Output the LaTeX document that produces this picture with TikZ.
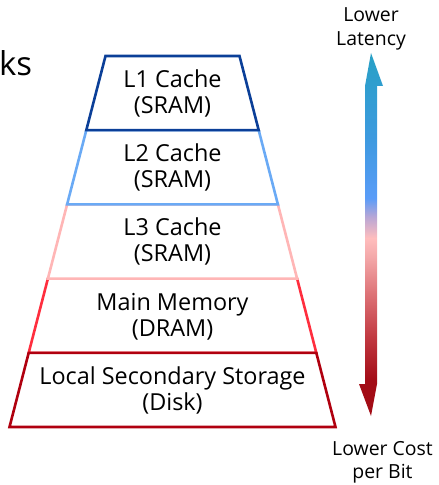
\documentclass[tikz,border=0pt]{standalone}
\usepackage{fontspec}
\setmainfont{Open Sans}

% tier outline colours
\definecolor{tierA}{HTML}{0B3F98}
\definecolor{tierB}{HTML}{6AAAF5}
\definecolor{tierC}{HTML}{FFB6B6}
\definecolor{tierD}{HTML}{FF2E3E}
\definecolor{tierE}{HTML}{B0000F}

% gradient of the double arrow, from the cost end (bottom) to the latency end (top)
\definecolor{gcA}{HTML}{A30C16}
\definecolor{gcB}{HTML}{C23A42}
\definecolor{gcC}{HTML}{DE7478}
\definecolor{gcD}{HTML}{F4A9AA}
\definecolor{gcE}{HTML}{FFBDBD}
\definecolor{gcF}{HTML}{B6A6D6}
\definecolor{gcG}{HTML}{5A9CF8}
\definecolor{gcH}{HTML}{3E9AE0}
\definecolor{gcI}{HTML}{27A0C5}
\pgfdeclareverticalshading{tradeoff}{100bp}{%
  color(0bp)=(gcA); color(25bp)=(gcA); color(30bp)=(gcA);
  color(36bp)=(gcB); color(42bp)=(gcC); color(47bp)=(gcD);
  color(49.5bp)=(gcE); color(52.5bp)=(gcF); color(55bp)=(gcG);
  color(63bp)=(gcH); color(75bp)=(gcI); color(100bp)=(gcI)}

\tikzset{
  tier/.style={line width=2.6bp, fill=white, line join=miter},
  tiertext/.style={align=center, inner sep=0pt,
    font=\fontsize{23.5}{26}\selectfont},
  sidetext/.style={align=center, inner sep=0pt,
    font=\fontsize{19.5}{23.5}\selectfont},
}

\begin{document}
\begin{tikzpicture}[x=1bp, y=-1bp]
  \useasboundingbox (0,0) rectangle (439,485);

  % cut-off title fragment
  \node[anchor=base west, inner sep=0pt, font=\fontsize{33}{38}\selectfont]
    (title) at (-1,76) {ks};

  % the five tiers of the pyramid
  \draw[tier, draw=tierD] (47.9,278.6) -- (297.1,278.6) -- (316.3,352.8) -- (28.7,352.8) -- cycle;
  \draw[tier, draw=tierE] (28.7,352.8) -- (316.3,352.8) -- (335.5,427.0) -- (9.5,427.0) -- cycle;
  \draw[tier, draw=tierC] (67.1,204.4) -- (277.9,204.4) -- (297.1,278.6) -- (47.9,278.6) -- cycle;
  \draw[tier, draw=tierB] (86.3,130.2) -- (258.7,130.2) -- (277.9,204.4) -- (67.1,204.4) -- cycle;
  \draw[tier, draw=tierA] (105.5,56.0) -- (239.5,56.0) -- (258.7,130.2) -- (86.3,130.2) -- cycle;

  \node[tiertext] (l1)   at (172.5,93.5)  {L1 Cache\\(SRAM)};
  \node[tiertext] (l2)   at (172.5,167.5) {L2 Cache\\(SRAM)};
  \node[tiertext] (l3)   at (172.5,241.5) {L3 Cache\\(SRAM)};
  \node[tiertext] (mem)  at (172.5,316.5) {Main Memory\\(DRAM)};
  \node[tiertext] (disk) at (172.5,390.5) {Local Secondary Storage\\(Disk)};

  % double arrow between the two trade-offs
  \coordinate (lat) at (371,53);
  \coordinate (cost) at (371,416);
  \shade[shading=tradeoff]
    (lat) -- ++(12,33) -- ++(-6,0) |- ([yshift=32bp]cost)
    -- ++(6,0) -- (cost) -- ++(-12,-32) -- ++(6,0) |- ([yshift=-33bp]lat)
    -- ++(-6,0) -- cycle;

  \node[sidetext, anchor=south] (latlbl) at ([yshift=3bp]lat) {Lower\\Latency};
  \node[sidetext, anchor=north] (costlbl) at (382.5,441) {Lower Cost\\per Bit};
\end{tikzpicture}
\end{document}
